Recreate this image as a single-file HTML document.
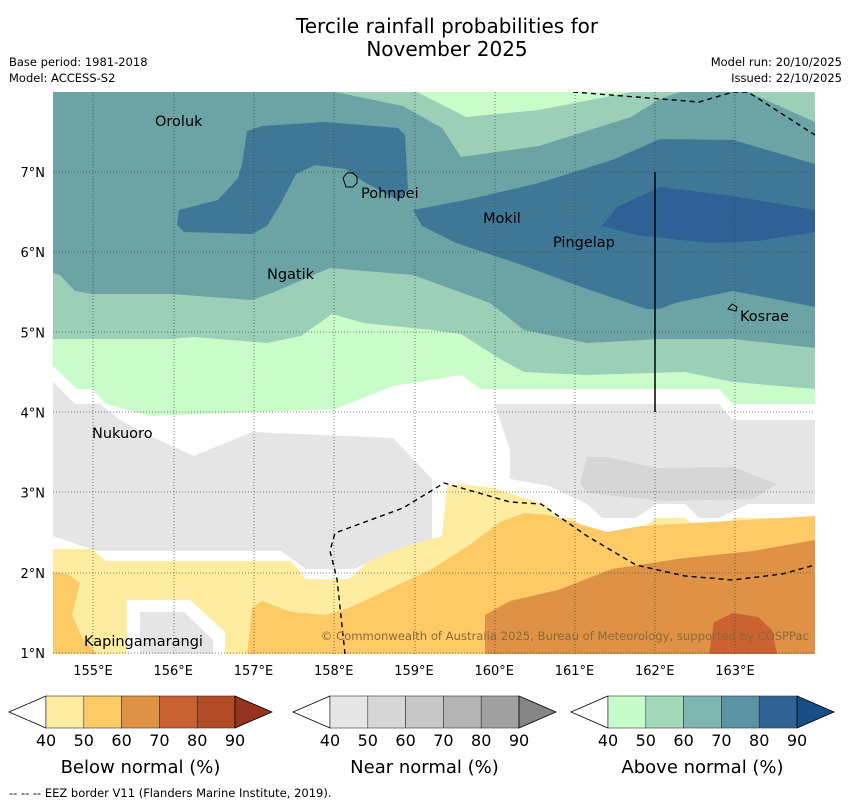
<!DOCTYPE html>
<html><head><meta charset="utf-8"><style>
body{margin:0;background:#fff;}
svg{display:block;font-family:"DejaVu Sans","Liberation Sans",sans-serif;}
</style></head><body>
<svg id="chart" width="850" height="804" viewBox="0 0 850 804">
<text x="447" y="33" font-size="20" text-anchor="middle">Tercile rainfall probabilities for</text>
<text x="447" y="56" font-size="20" text-anchor="middle">November 2025</text>
<text x="9" y="66" font-size="11.5">Base period: 1981-2018</text>
<text x="9" y="82" font-size="11.5">Model: ACCESS-S2</text>
<text x="842" y="66" font-size="11.5" text-anchor="end">Model run: 20/10/2025</text>
<text x="842" y="82" font-size="11.5" text-anchor="end">Issued: 22/10/2025</text>
<defs><clipPath id="mapclip"><rect x="53" y="92" width="762" height="562"/></clipPath></defs>
<g clip-path="url(#mapclip)">
<rect x="53" y="92" width="762" height="562" fill="#fff"/>
<polygon fill="#e5e5e5" points="53,382 75,404 100,404 120,420 150,436 194,456 252,432 393,438 432,479 432,547 403,547 354,569 306,569 281,551 97,551 53,536"/>
<polygon fill="#e5e5e5" points="495,404 719,404 733,420 815,420 815,504 748,504 719,518 699,518 685,504 656,504 636,518 602,518 587,504 549,486 510,479 510,450 500,420"/>
<polygon fill="#d6d6d6" points="587,457 607,457 656,468 733,467 777,484 753,499 665,501 587,493 580,483"/>
<polygon fill="#feeca0" points="53,549 92,549 106,561 291,561 306,579 349,579 369,561 403,547 442,536 447,486 461,484 493,488 544,504 558,518 573,518 587,533 602,533 636,533 656,518 685,518 704,533 719,533 733,518 815,518 815,654 53,654"/>
<polygon fill="#fff" points="127,600 190,600 225,632 225,654 127,654"/>
<polygon fill="#e5e5e5" points="140,612 184,612 213,640 213,654 140,654"/>
<polygon fill="#fdca66" points="53,572 68,574 80,583 72,615 82,637 97,654 53,654"/>
<polygon fill="#fdca66" points="247,654 252,608 262,601 291,612 325,615 349,608 393,587 432,569 471,544 500,522 524,513 549,515 607,532 641,526 815,516 815,654"/>
<polygon fill="#df9245" points="485,654 485,615 510,601 558,590 612,569 685,558 753,551 815,540 815,654"/>
<polygon fill="#cb6232" points="709,654 714,622 733,613 758,617 772,630 777,654"/>
<polygon fill="#c9fcc9" points="53,92 815,92 815,404 733,404 719,389 481,389 461,375 393,386 335,409 150,416 106,404 92,389 77,389 53,366"/>
<polygon fill="#9ccfb7" points="53,92 815,92 815,389 733,382 685,372 587,375 524,372 500,359 461,334 432,330 364,323 332,314 301,336 267,343 194,337 170,339 53,339"/>
<polygon fill="#c9fcc9" points="417,92 466,117 539,110 631,92"/>
<polygon fill="#6ca3a5" points="53,92 335,92 403,106 442,128 461,157 539,146 631,117 660,99 680,92 748,92 815,122 815,348 733,339 660,339 587,343 524,330 490,303 413,275 330,268 272,293 252,300 170,294 92,294 75,291 60,275 53,273"/>
<polygon fill="#3f7896" points="247,131 262,126 325,122 398,128 405,135 408,189 398,200 364,182 345,169 315,165 296,174 281,203 267,226 252,234 184,232 177,225 179,210 218,200 238,178 242,164"/>
<polygon fill="#3f7896" points="413,210 466,200 539,183 612,160 660,139 733,140 815,164 815,307 733,291 675,303 660,309 646,309 587,289 519,264 456,243 422,226"/>
<polygon fill="#2e6196" points="602,226 617,207 660,187 733,196 815,210 815,232 758,241 709,243 636,235"/>
<g stroke="#444" stroke-width="0.8" stroke-dasharray="1,2" opacity="0.85">
<line x1="93" y1="92" x2="93" y2="654"/><line x1="174" y1="92" x2="174" y2="654"/><line x1="254" y1="92" x2="254" y2="654"/><line x1="334" y1="92" x2="334" y2="654"/><line x1="415" y1="92" x2="415" y2="654"/><line x1="495" y1="92" x2="495" y2="654"/><line x1="575" y1="92" x2="575" y2="654"/><line x1="655" y1="92" x2="655" y2="654"/><line x1="735" y1="92" x2="735" y2="654"/>
<line x1="53" y1="172" x2="815" y2="172"/><line x1="53" y1="252" x2="815" y2="252"/><line x1="53" y1="332" x2="815" y2="332"/><line x1="53" y1="412" x2="815" y2="412"/><line x1="53" y1="492" x2="815" y2="492"/><line x1="53" y1="573" x2="815" y2="573"/><line x1="53" y1="653" x2="815" y2="653"/>
</g>
<g fill="none" stroke="#000" stroke-width="1.4" stroke-dasharray="5,4">
<polyline points="573,92 699,102 733,92 748,92 815,135"/>
<polyline points="345,654 337,579 330,551 335,533 403,508 444,483 510,502 541,504 587,536 636,565 685,576 733,580 782,574 815,565"/>
</g>
<line x1="655" y1="172" x2="655" y2="412" stroke="#000" stroke-width="1.5"/>
<path d="M343,178 l4,-5 l6,0 l4,4 l0,6 l-4,4 l-7,0 z" fill="none" stroke="#000" stroke-width="1"/>
<path d="M728,309 l4,-5 l5,3 l-1,4 z" fill="none" stroke="#000" stroke-width="1"/>
<g font-size="14.5" fill="#000">
<text x="155" y="126">Oroluk</text>
<text x="361" y="198">Pohnpei</text>
<text x="483" y="223">Mokil</text>
<text x="553" y="247">Pingelap</text>
<text x="267" y="279">Ngatik</text>
<text x="740" y="321">Kosrae</text>
<text x="92" y="438">Nukuoro</text>
<text x="84" y="646">Kapingamarangi</text>
</g>
<text x="809" y="640" font-size="11.6" text-anchor="end" fill="#8a6a3a">© Commonwealth of Australia 2025, Bureau of Meteorology, supported by COSPPac</text>
</g>
<g id="latlabels" font-size="13" text-anchor="end"></g>
<g id="lonlabels" font-size="13" text-anchor="middle"></g>
<g id="legends"></g>
<text x="9" y="797" font-size="11.5">--  --  -- EEZ border V11 (Flanders Marine Institute, 2019).</text>
</svg>
<script>
const latTicks=[7,6,5,4,3,2,1];
const lonTicks=[155,156,157,158,159,160,161,162,163];
const legendTicks=[40,50,60,70,80,90];
const belowColors=["#feeca0","#fdca66","#df9245","#cb6232","#b24a25","#953420"];
const nearColors=["#e6e6e6","#d7d7d7","#c8c8c8","#b4b4b4","#a0a0a0","#858585"];
const aboveColors=["#c7fcca","#a4d9bc","#80b6b0","#5a93a4","#2f6295","#174e85"];
const legendTitles=["Below normal (%)","Near normal (%)","Above normal (%)"];
const NS="http://www.w3.org/2000/svg";
function lonX(l){return 93+(l-155)*80.25;}
function latY(l){return 172+(7-l)*80.17;}
const latG=document.getElementById('latlabels');
latTicks.forEach(v=>{const t=document.createElementNS(NS,'text');


t.setAttribute('x',45);t.setAttribute('y',latY(v)+5);t.textContent=v+'°N';latG.appendChild(t);});
const lonG=document.getElementById('lonlabels');
lonTicks.forEach(v=>{const t=document.createElementNS(NS,'text');


t.setAttribute('x',lonX(v));t.setAttribute('y',675);t.textContent=v+'°E';lonG.appendChild(t);});
const lg=document.getElementById('legends');
const starts=[46,330,608];
[belowColors,nearColors,aboveColors].forEach((cols,i)=>{
 const x0=starts[i],w=37.8,y0=696,h=32,x1=x0+5*w;
 const g=document.createElementNS(NS,'g');
 
 
 const lt=document.createElementNS(NS,'polygon');
 
 
 lt.setAttribute('points',`${x0},${y0} ${x0-37},${y0+h/2} ${x0},${y0+h}`);lt.setAttribute('fill','#fff');lt.setAttribute('stroke','#000');lt.setAttribute('stroke-width','0.8');g.appendChild(lt);
 for(let k=0;k<5;k++){const r=document.createElementNS(NS,'rect');
  
  
  r.setAttribute('x',x0+k*w);r.setAttribute('y',y0);r.setAttribute('width',w);r.setAttribute('height',h);r.setAttribute('fill',cols[k]);r.setAttribute('stroke','#333');r.setAttribute('stroke-width','0.6');g.appendChild(r);}
 const rt=document.createElementNS(NS,'polygon');
 
 
 rt.setAttribute('points',`${x1},${y0} ${x1+37},${y0+h/2} ${x1},${y0+h}`);rt.setAttribute('fill',cols[5]);rt.setAttribute('stroke','#000');rt.setAttribute('stroke-width','0.8');g.appendChild(rt);
 legendTicks.forEach((v,k)=>{const t=document.createElementNS(NS,'text');
  
  
  t.setAttribute('x',x0+k*w);t.setAttribute('y',746);t.setAttribute('font-size','16');t.setAttribute('text-anchor','middle');t.textContent=v;g.appendChild(t);});
 const tt=document.createElementNS(NS,'text');
 
 
 tt.setAttribute('x',x0+2.5*w);tt.setAttribute('y',773);tt.setAttribute('font-size','18');tt.setAttribute('text-anchor','middle');tt.textContent=legendTitles[i];g.appendChild(tt);
 lg.appendChild(g);});
</script>
</body></html>
